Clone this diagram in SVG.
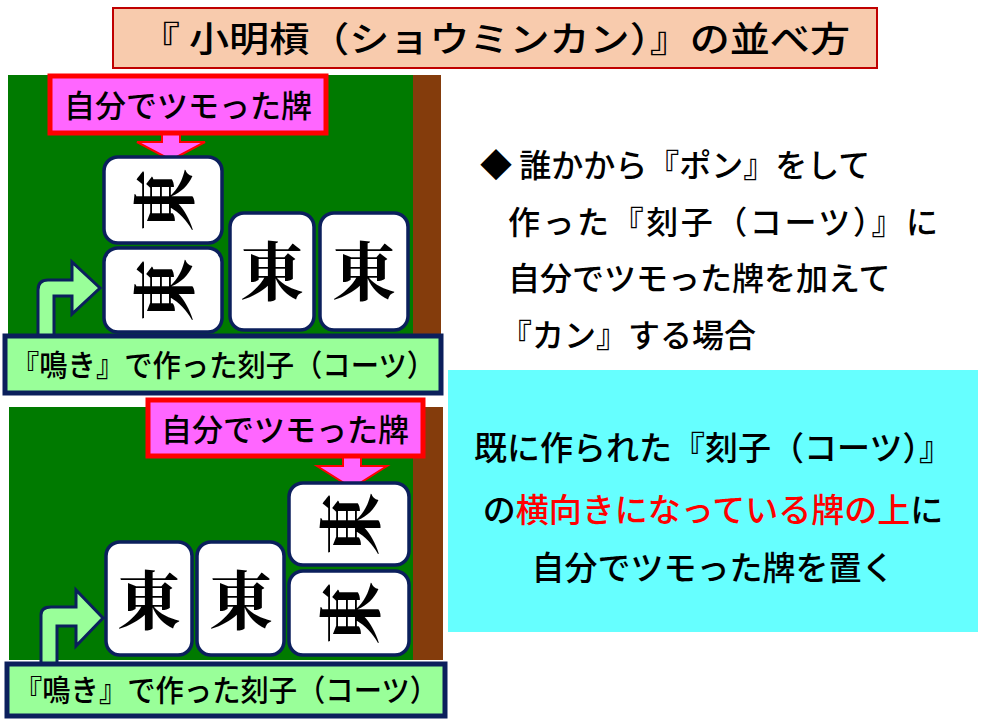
<svg xmlns="http://www.w3.org/2000/svg" width="983" height="720" viewBox="0 0 983 720">
<style>
text{font-family:"Noto Sans CJK JP","Noto Sans",sans-serif;fill:#000;font-weight:500}
.tile{fill:#fff;stroke:#0b1f5c;stroke-width:3.5}
.ton{font-family:"Noto Serif CJK JP","Noto Sans CJK JP",serif;font-weight:bold;font-size:64px;text-anchor:middle}
.tag{fill:#ff66ff;stroke:#ff0000;stroke-width:5}
.lab{fill:#99ff99;stroke:#0b1f5c;stroke-width:5}
.parr{fill:#ff66ff;stroke:#ff0000;stroke-width:2}
.garr{fill:#99ff99;stroke:#0b1f5c;stroke-width:3}
</style>
<rect width="983" height="720" fill="#fff"/>
<g id="title"><rect x="113" y="8" width="764" height="60" fill="#f8cbad" stroke="#c00000" stroke-width="2"/>
<text x="495" y="52" font-size="35" text-anchor="middle" textLength="710" lengthAdjust="spacingAndGlyphs">『 小明槓（ショウミンカン）』の並べ方</text></g>
<g id="panel1">
<rect x="8" y="75" width="405" height="260" fill="#007a00"/><rect x="413" y="75" width="28" height="260" fill="#843c0c"/>
</g>
<g id="panel2">
<rect x="9" y="407" width="404" height="253" fill="#007a00"/><rect x="413" y="407" width="30" height="253" fill="#843c0c"/>
</g>
<g id="connectors">
<path class="parr" d="M162,133 H180 V142 H205 L171,160 L137,142 H162 Z"/>
<path class="garr" d="M38,336 V290 Q38,280 48,280 H72 V262 L100,288 L72,314 V296 H54 V336 Z"/>
<path class="parr" d="M343,456 H361 V466 H387 L352,488 L317,466 H343 Z"/>
<path class="garr" d="M41,664 V615 Q41,607 51,607 H76 V590 L103,618 L76,646 V626 H57 V664 Z"/>
</g>
<g id="tiles1">
<rect class="tile" x="104" y="157" width="118" height="86" rx="14"/>
<text class="ton" transform="translate(166,200) rotate(-90)" y="22">東</text>
<rect class="tile" x="104" y="248" width="118" height="84" rx="14"/>
<text class="ton" transform="translate(166,290) rotate(-90)" y="22">東</text>
<rect class="tile" x="230" y="213" width="84" height="117" rx="14"/>
<text class="ton" x="272" y="295">東</text>
<rect class="tile" x="320" y="213" width="88" height="117" rx="14"/>
<text class="ton" x="364" y="295">東</text>
</g>
<g id="tiles2">
<rect class="tile" x="289" y="483" width="120" height="82" rx="14"/>
<text class="ton" transform="translate(352,524) rotate(-90)" y="22">東</text>
<rect class="tile" x="289" y="571" width="120" height="84" rx="14"/>
<text class="ton" transform="translate(352,613) rotate(-90)" y="22">東</text>
<rect class="tile" x="106" y="542" width="86" height="113" rx="14"/>
<text class="ton" x="149" y="624">東</text>
<rect class="tile" x="197" y="542" width="87" height="113" rx="14"/>
<text class="ton" x="241" y="624">東</text>
</g>
<g id="tag1"><rect class="tag" x="50" y="76" width="276" height="57"/><text x="188" y="117" font-size="31" text-anchor="middle">自分でツモった牌</text></g>
<g id="tag2"><rect class="tag" x="148" y="400" width="275" height="56"/><text x="285" y="441" font-size="31" text-anchor="middle">自分でツモった牌</text></g>
<g id="label1"><rect class="lab" x="5" y="336" width="436" height="57"/><text x="223" y="376" font-size="30" text-anchor="middle" textLength="424" lengthAdjust="spacingAndGlyphs">『鳴き』で作った刻子（コーツ）</text></g>
<g id="label2"><rect class="lab" x="7" y="664" width="438" height="52"/><text x="226" y="701" font-size="30" text-anchor="middle" textLength="424" lengthAdjust="spacingAndGlyphs">『鳴き』で作った刻子（コーツ）</text></g>
<g id="desc">
<text font-size="32"><tspan x="480" y="177">◆ 誰かから『ポン』をして</tspan><tspan x="508" y="234" textLength="430">作った『刻子（コーツ）』に</tspan><tspan x="508" y="290">自分でツモった牌を加えて</tspan><tspan x="500" y="347">『カン』する場合</tspan></text>
</g>
<g id="note"><rect x="448" y="370" width="530" height="262" fill="#66ffff"/>
<text font-size="33" text-anchor="middle"><tspan x="713" y="460" textLength="478">既に作られた『刻子（コーツ）』</tspan><tspan x="713" y="522">の<tspan fill="#ff0000">横向きになっている牌の上</tspan>に</tspan><tspan x="713" y="580">自分でツモった牌を置く</tspan></text></g>
</svg>
